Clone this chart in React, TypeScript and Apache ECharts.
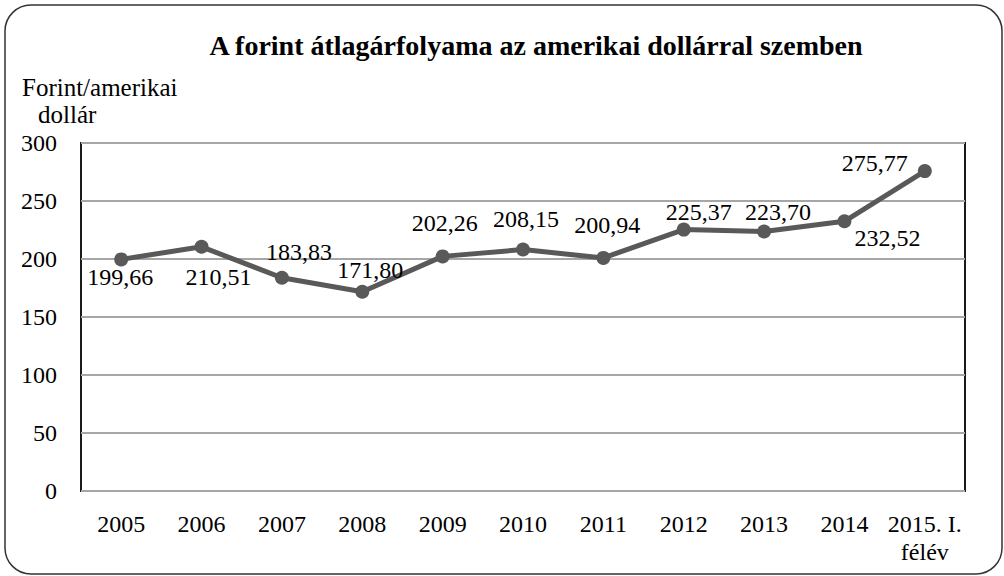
import React, { useEffect, useRef } from "react";
import * as echarts from "echarts";

const categories = ["2005", "2006", "2007", "2008", "2009", "2010", "2011", "2012", "2013", "2014", "2015. I.\nfélév"];
const rates = [199.66, 210.51, 183.83, 171.8, 202.26, 208.15, 200.94, 225.37, 223.7, 232.52, 275.77];
const labelTexts = ["199,66", "210,51", "183,83", "171,80", "202,26", "208,15", "200,94", "225,37", "223,70", "232,52", "275,77"];
const labelOffsets: [number, number][] = [
  [-1, 18], [17, 30], [17, -26], [8, -22], [2, -33], [3, -31], [4, -33], [15, -18], [14, -20], [43, 17], [-50, -8],
];

const FONT = "Liberation Serif";

export default function App() {
  const ref = useRef<HTMLDivElement>(null);
  useEffect(() => {
    if (!ref.current) return;
    const chart = echarts.init(ref.current, null, { renderer: "svg" });
    chart.setOption({
      animation: false,
      backgroundColor: "#ffffff",
      textStyle: { fontFamily: FONT },
      graphic: [
        {
          type: "rect",
          shape: { x: 5, y: 5, width: 997, height: 569, r: 26 },
          style: { fill: "none", stroke: "#333333", lineWidth: 1.5 },
          silent: true,
        },
        {
          type: "text",
          x: 536,
          y: 45,
          style: {
            text: "A forint átlagárfolyama az amerikai dollárral szemben",
            fontFamily: FONT,
            fontWeight: "bold",
            fontSize: 28,
            fill: "#000",
            align: "center",
            verticalAlign: "middle",
          },
        },
        {
          type: "text",
          x: 22,
          y: 87,
          style: { text: "Forint/amerikai", fontFamily: FONT, fontSize: 25, fill: "#000", align: "left", verticalAlign: "middle" },
        },
        {
          type: "text",
          x: 38,
          y: 114,
          style: { text: "dollár", fontFamily: FONT, fontSize: 25, fill: "#000", align: "left", verticalAlign: "middle" },
        },
      ],
      grid: {
        left: 81,
        right: 39,
        top: 143,
        bottom: 85,
        show: true,
        borderColor: "#1a1a1a",
        borderWidth: 2,
        backgroundColor: "transparent",
      },
      xAxis: {
        type: "category",
        data: categories,
        boundaryGap: true,
        axisLine: { show: false },
        axisTick: { show: false },
        axisLabel: {
          color: "#000",
          fontFamily: FONT,
          fontSize: 24,
          lineHeight: 28,
          margin: 19,
          interval: 0,
        },
      },
      yAxis: {
        type: "value",
        min: 0,
        max: 300,
        interval: 50,
        axisLine: { show: false },
        axisTick: { show: false },
        splitLine: { lineStyle: { color: "#a6a6a6", width: 2 } },
        axisLabel: { color: "#000", fontFamily: FONT, fontSize: 24, margin: 24 },
      },
      series: [
        {
          type: "line",
          data: rates.map((v, i) => ({
            value: v,
            label: {
              show: true,
              position: "inside",
              offset: labelOffsets[i],
              formatter: () => labelTexts[i],
            },
          })),
          symbol: "circle",
          symbolSize: 14,
          lineStyle: { color: "#595959", width: 5 },
          itemStyle: { color: "#595959" },
          label: {
            show: true,
            color: "#000",
            fontFamily: FONT,
            fontSize: 24,
            align: "center",
            verticalAlign: "middle",
          },
        },
      ],
    });
    return () => chart.dispose();
  }, []);
  return (
    <div style={{ position: "absolute", left: 0, top: 0, width: 1004, height: 576 }}>
      <div ref={ref} style={{ width: 1004, height: 576 }} />
    </div>
  );
}
